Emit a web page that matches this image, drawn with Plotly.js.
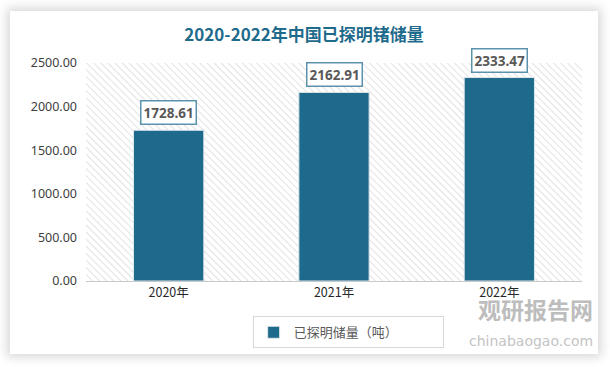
<!DOCTYPE html>
<html><head><meta charset="utf-8">
<script src="https://cdn.plot.ly/plotly-3.0.1.min.js"></script>
<style>
html,body{margin:0;padding:0;background:#ffffff;width:610px;height:367px;overflow:hidden;}
#card{position:absolute;left:10px;top:11px;width:588px;height:343px;background:#fff;box-shadow:0 0 10px 3px rgba(0,0,0,0.16);}
#chart{width:588px;height:343px;}
</style></head>
<body><div id="card"><div id="chart"></div></div>
<script>
const categories = ["2020年", "2021年", "2022年"];
const reserves = [1728.61, 2162.91, 2333.47];
const seriesName = "已探明储量（吨）";
const yTicks = [0, 500, 1000, 1500, 2000, 2500];
const yTickLabels = ["0.00", "500.00", "1000.00", "1500.00", "2000.00", "2500.00"];

const barColor = "#1d6a8c";
const hatchSvg = '<svg xmlns="http://www.w3.org/2000/svg" width="496" height="218">' +
  '<defs><pattern id="p" width="5" height="5" patternUnits="userSpaceOnUse" patternTransform="rotate(-45)">' +
  '<rect width="5" height="5" fill="#ffffff"/><line x1="0" y1="0" x2="0" y2="5" stroke="#d9d9d9" stroke-width="1.5"/></pattern></defs>' +
  '<rect width="496" height="218" fill="url(#p)"/></svg>';

const trace = {
  type: "bar",
  x: categories,
  y: reserves,
  name: seriesName,
  width: 0.425,
  marker: {color: barColor, line: {color: "#e0e6ea", width: 1}},
  hoverinfo: "none"
};

const annotations = categories.map((c, i) => ({
  x: c, y: reserves[i], xref: "x", yref: "y",
  text: "<b>" + reserves[i].toFixed(2) + "</b>",
  showarrow: false, yanchor: "bottom", yshift: 5,
  font: {family: "Noto Sans, Open Sans, sans-serif", size: 13.5, color: "#595959"},
  bgcolor: "#ffffff", bordercolor: "#5b93ad", borderwidth: 1.5, borderpad: 2
}));
annotations.push({
  xref: "paper", yref: "paper", x: 1.026, y: -0.127, xanchor: "right", yanchor: "middle",
  text: "<b>观研报告网</b>", showarrow: false,
  font: {family: "Noto Sans CJK SC, sans-serif", size: 23, color: "#bdbdbd"}
});
annotations.push({
  xref: "paper", yref: "paper", x: 1.026, y: -0.276, xanchor: "right", yanchor: "middle",
  text: "chinabaogao.com", showarrow: false,
  font: {family: "DejaVu Sans, sans-serif", size: 14, color: "#c4c4c4"}
});

const layout = {
  width: 588, height: 343,
  margin: {l: 76, r: 16, t: 52, b: 73, autoexpand: false},
  paper_bgcolor: "#ffffff",
  plot_bgcolor: "rgba(0,0,0,0)",
  title: {text: "<b>2020-2022年中国已探明锗储量</b>", x: 0.5, xanchor: "center", y: 0.93, yanchor: "middle",
    font: {family: "Noto Sans CJK SC, sans-serif", size: 17, color: "#1f6b8c"}},
  xaxis: {type: "category", showgrid: false, zeroline: false, showline: true, linecolor: "#c9c9c9", linewidth: 1,
    ticks: "", tickfont: {family: "Noto Sans CJK SC, sans-serif", size: 12.5, color: "#262626"}, range: [-0.5, 2.5]},
  yaxis: {range: [0, 2500], tickvals: yTicks, ticktext: yTickLabels, showgrid: false, zeroline: false, showline: false,
    ticks: "", ticklabelstandoff: 8,
    tickfont: {family: "Noto Sans, Open Sans, sans-serif", size: 12.5, color: "#404040"}},
  showlegend: true,
  legend: {orientation: "h", x: 0.336, xanchor: "left", y: -0.162, yanchor: "top",
    bordercolor: "#d9d9d9", borderwidth: 1, bgcolor: "#ffffff",
    font: {family: "Noto Sans CJK SC, sans-serif", size: 13, color: "#595959"},
    entrywidth: 144, itemwidth: 30},
  images: [{source: "data:image/svg+xml;charset=utf-8," + encodeURIComponent(hatchSvg),
    xref: "paper", yref: "paper", x: 0, y: 1, sizex: 1, sizey: 1, xanchor: "left", yanchor: "top",
    sizing: "stretch", layer: "below"}],
  annotations: annotations
};

Plotly.newPlot("chart", [trace], layout, {displayModeBar: false, staticPlot: true});
</script></body></html>
